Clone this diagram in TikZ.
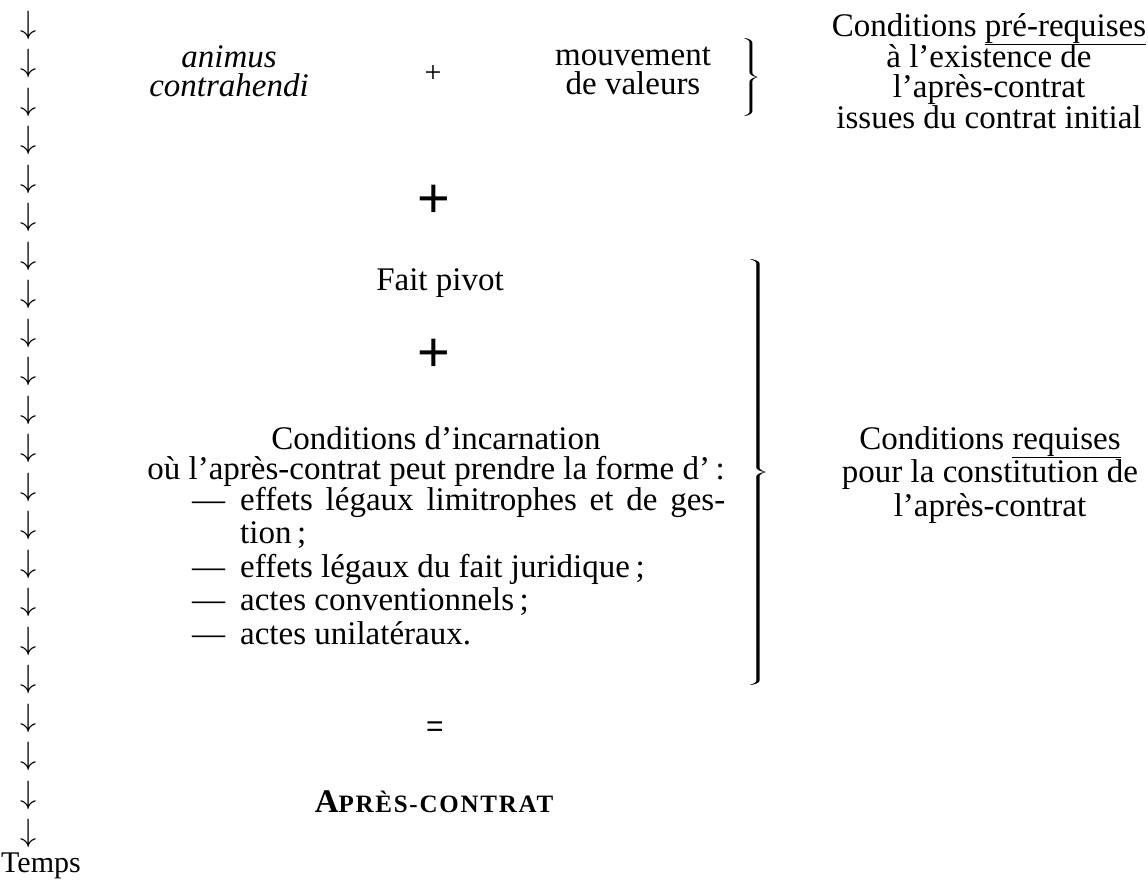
\documentclass[tikz,border=0pt]{standalone}
\usepackage{fontspec}
\setmainfont{Liberation Serif}
\newfontfamily\sansplus{Liberation Sans}
\newcommand{\bracepiece}[2]{\scalebox{#1}[1]{\nulldelimiterspace=0pt\delimiterfactor=1000\delimitershortfall=0pt$\left.\vcenter{\hbox{\rule{0pt}{#2}}}\right\}$}}
\newcommand{\nolineskip}{\lineskiplimit=-100pt\relax}
\newsavebox{\ulbox}
\newcommand{\ulword}[1]{\sbox{\ulbox}{#1}\rlap{\vrule height -7.6pt depth 8.8pt width \wd\ulbox}\usebox{\ulbox}}
\begin{document}
\begin{tikzpicture}[x=1pt,y=-1pt,
  txt/.style={inner sep=0pt, font=\fontsize{33}{33.5}\selectfont\nolineskip, align=center},
  tight/.style={inner sep=0pt, font=\fontsize{33}{28.5}\selectfont\nolineskip, align=center},
  lline/.style={inner sep=0pt, anchor=west, font=\fontsize{33}{33.5}\selectfont},
  bigplus/.style={inner sep=0pt, font=\sansplus\fontsize{56}{56}\selectfont},
  arr/.style={inner sep=0pt, font=\fontsize{30}{30}\selectfont},
  brc/.style={inner sep=0pt, font=\fontsize{34}{34}\selectfont}]
\useasboundingbox (0,0) rectangle (1148,887);
% time column
\foreach \i in {1,...,22}{
  \node[arr] (t\i) at (29, {25+(\i-1)*38.5}) {\scalebox{1.3}{$\downarrow$}};
}
\node[txt, font=\fontsize{30}{30}\selectfont] (temps) at (41,866) {Temps};
% top row
\node[tight, font=\itshape\fontsize{33}{28.5}\selectfont\nolineskip] (animus) at (229,71) {animus\\contrahendi};
\node[txt, font=\fontsize{30}{30}\selectfont] (p1) at (433,74) {+};
\node[tight] (mouv) at (633,71) {mouvement\\de valeurs};
\node[brc] (b1) at (751,77) {\bracepiece{2.4}{76pt}};
\node[tight, font=\fontsize{33}{30.5}\selectfont\nolineskip] (pre) at (989,71) {Conditions \ulword{pré-requises}\\à l’existence de\\l’après-contrat\\issues du contrat initial};
% middle
\node[bigplus] (p2) at (434,201) {+};
\node[txt] (fait) at (440,283) {Fait pivot};
\node[bigplus] (p3) at (434,355) {+};
\node[txt] (ci) at (436,438) {Conditions d’incarnation};
\node[txt] (ou) at (436,471) {où l’après-contrat peut prendre la forme d’\,:};
\node[lline] (l1) at (192,504) {\strut\makebox[48pt][l]{—}\makebox[485pt][s]{effets légaux limitrophes et de ges-}};
\node[lline] (l2) at (240,537) {\strut tion\,;};
\node[lline] (l3) at (192,571) {\strut\makebox[48pt][l]{—}effets légaux du fait juridique\,;};
\node[lline] (l4) at (192,604) {\strut\makebox[48pt][l]{—}actes conventionnels\,;};
\node[lline] (l5) at (192,638) {\strut\makebox[48pt][l]{—}actes unilatéraux.};
\node[brc] (b2) at (758,472) {\bracepiece{2.8}{421pt}};
\node[txt] (req) at (990,475) {Conditions \ulword{requises}\\pour la constitution de\\l’après-contrat};
% bottom
\node[inner sep=0pt, font=\sansplus\fontsize{30}{30}\selectfont] (eq) at (435,729) {=};
\node[txt] (apres) at (434,802) {\fontsize{33}{33}\selectfont\bfseries A\fontsize{25}{25}\selectfont\addfontfeature{LetterSpace=7}PRÈS-CONTRAT};
\end{tikzpicture}
\end{document}
